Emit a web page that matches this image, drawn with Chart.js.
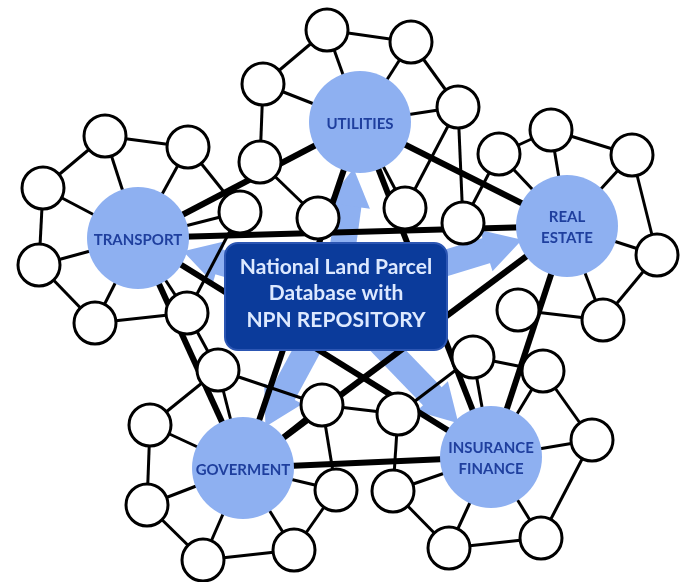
<!DOCTYPE html>
<html>
<head>
<meta charset="utf-8">
<script src="https://cdn.jsdelivr.net/npm/chart.js@4.4.1/dist/chart.umd.min.js"></script>
<style>
  html, body { margin: 0; padding: 0; background: #fff; }
  #wrap { width: 691px; height: 582px; }
</style>
</head>
<body>
<div id="wrap"><canvas id="netChart" width="691" height="582"></canvas></div>
<script>
// hub sectors (big blue circles)
const hubKeys = ["U", "T", "R", "G", "I"];
const hubLabels = [["UTILITIES"], ["TRANSPORT"], ["REAL", "ESTATE"], ["GOVERMENT"], ["INSURANCE", "FINANCE"]];
const hubX = [360, 138, 567, 243, 491];
const hubY = [122, 238, 226, 468, 457];

// small member nodes (white circles)
const nodeX = [327, 411, 263, 458, 260, 318, 405, 463, 499, 551, 632, 657, 603, 518, 473, 543, 398, 592, 393, 449, 541, 322, 336, 294, 203, 147, 150, 218, 187, 95, 39, 43, 105, 188, 240];
const nodeY = [30, 42, 84, 107, 162, 218, 208, 223, 154, 130, 155, 255, 320, 310, 357, 371, 414, 440, 491, 548, 538, 405, 490, 550, 560, 505, 425, 370, 313, 323, 265, 188, 136, 147, 212];

// links between hubs (heavy)
const hubLinks = [["U", "R"], ["T", "U"], ["T", "R"], ["T", "I"], ["T", "G"], ["U", "G"], ["U", "I"], ["R", "I"], ["R", "G"], ["G", "I"]];

// links inside each cluster (light)
const nodeLinks = [
  ["U", 0], ["U", 1], ["U", 2], ["U", 3], ["U", 6],
  [2, 0], [0, 1], [1, 3], [3, 6], [3, 7], [2, 4], [4, 5],
  ["T", 32], ["T", 33], ["T", 31], ["T", 30], ["T", 29], ["T", 28], ["T", 34],
  [32, 33], [32, 31], [31, 30], [30, 29], [29, 28], [33, 34], [34, 28],
  ["G", 26], ["G", 25], ["G", 24], ["G", 23], ["G", 22], ["G", 21], ["G", 27],
  [28, 27], [27, 26], [26, 25], [25, 24], [24, 23], [23, 22], [22, 21], [27, 21],
  ["I", 14], ["I", 15], ["I", 17], ["I", 20], ["I", 19], ["I", 18],
  [16, 18], [18, 19], [19, 20], [20, 17], [17, 15], [15, 14], [14, 16], [21, 16],
  ["R", 8], ["R", 9], ["R", 10], ["R", 11], ["R", 12],
  [7, 8], [8, 9], [9, 10], [10, 11], [11, 12], [12, 13]
];

// central repository box
const centerText = ["National Land Parcel", "Database with", "NPN REPOSITORY"];
const boxX = [225, 447];
const boxY = [243, 350];

const HUB_COLOR = "#8eb0f1";
const HUB_R = 51;
const NODE_R = 21;

function pos(key) {
  if (typeof key === "string") {
    const i = hubKeys.indexOf(key);
    return { x: hubX[i], y: hubY[i] };
  }
  return { x: nodeX[key], y: nodeY[key] };
}

const datasets = [];

// arrows from the box to every hub
const boxCx = (boxX[0] + boxX[1]) / 2;
const boxCy = (boxY[0] + boxY[1]) / 2;
const headR = 25;
hubKeys.forEach((k) => {
  const h = pos(k);
  const dx = h.x - boxCx;
  const dy = h.y - boxCy;
  const len = Math.sqrt(dx * dx + dy * dy);
  const ux = dx / len, uy = dy / len;
  const tipX = h.x - ux * (HUB_R - 4);
  const tipY = h.y - uy * (HUB_R - 4);
  const headX = tipX - ux * headR;
  const headY = tipY - uy * headR;
  datasets.push({
    data: [{ x: boxCx, y: boxCy }, { x: headX, y: headY }],
    showLine: true,
    borderColor: HUB_COLOR,
    borderWidth: 26,
    borderCapStyle: "butt",
    pointStyle: "triangle",
    pointRadius: [0, headR],
    pointRotation: Math.atan2(ux, -uy) * 180 / Math.PI,
    pointBackgroundColor: HUB_COLOR,
    pointBorderWidth: 0,
    clip: false,
    order: 40
  });
});

hubLinks.forEach(([a, b]) => {
  datasets.push({
    data: [pos(a), pos(b)],
    showLine: true,
    borderColor: "#000",
    borderWidth: 6,
    pointRadius: 0,
    clip: false,
    order: 30
  });
});

nodeLinks.forEach(([a, b]) => {
  datasets.push({
    data: [pos(a), pos(b)],
    showLine: true,
    borderColor: "#000",
    borderWidth: 3,
    pointRadius: 0,
    clip: false,
    order: 30
  });
});

datasets.push({
  data: hubKeys.map((k) => pos(k)),
  pointRadius: HUB_R,
  pointBackgroundColor: HUB_COLOR,
  pointBorderWidth: 0,
  clip: false,
  order: 20
});

datasets.push({
  data: nodeX.map((x, i) => ({ x: x, y: nodeY[i] })),
  pointRadius: NODE_R,
  pointBackgroundColor: "#fff",
  pointBorderColor: "#000",
  pointBorderWidth: 3,
  clip: false,
  order: 10
});

// box + texts drawn on top
const labelPlugin = {
  id: "labels",
  afterDatasetsDraw(chart) {
    const ctx = chart.ctx;
    const xs = chart.scales.x, ys = chart.scales.y;
    ctx.save();

    hubLabels.forEach((lines, i) => {
      const cx = xs.getPixelForValue(hubX[i]);
      const cy = ys.getPixelForValue(hubY[i]);
      ctx.font = "bold 15px Lato";
      ctx.fillStyle = "#1f3f9e";
      ctx.textAlign = "center";
      ctx.textBaseline = "middle";
      const lh = 21;
      lines.forEach((t, j) => {
        ctx.fillText(t, cx, cy + (j - (lines.length - 1) / 2) * lh + 2);
      });
    });

    const x0 = xs.getPixelForValue(boxX[0]);
    const x1 = xs.getPixelForValue(boxX[1]);
    const y0 = ys.getPixelForValue(boxY[0]);
    const y1 = ys.getPixelForValue(boxY[1]);
    ctx.beginPath();
    ctx.roundRect(x0, y0, x1 - x0, y1 - y0, 13);
    ctx.fillStyle = "#0b3b9b";
    ctx.fill();
    ctx.lineWidth = 2;
    ctx.strokeStyle = "#2c56b3";
    ctx.stroke();

    ctx.font = "bold 21px Lato";
    ctx.fillStyle = "#dde9ff";
    ctx.textAlign = "center";
    ctx.textBaseline = "middle";
    const midX = (x0 + x1) / 2, midY = (y0 + y1) / 2;
    centerText.forEach((t, j) => {
      ctx.fillText(t, midX, midY + (j - 1) * 26.5 - 3);
    });
    ctx.restore();
  }
};

new Chart(document.getElementById("netChart"), {
  type: "scatter",
  data: { datasets: datasets },
  options: {
    responsive: false,
    animation: false,
    events: [],
    // no auto padding: keep one data unit = one canvas pixel
    layout: { padding: 0, autoPadding: false },
    plugins: { legend: { display: false }, tooltip: { enabled: false } },
    scales: {
      x: { type: "linear", min: 0, max: 691, display: false },
      y: { type: "linear", min: 0, max: 582, reverse: true, display: false }
    }
  },
  plugins: [labelPlugin]
});
</script>
</body>
</html>
